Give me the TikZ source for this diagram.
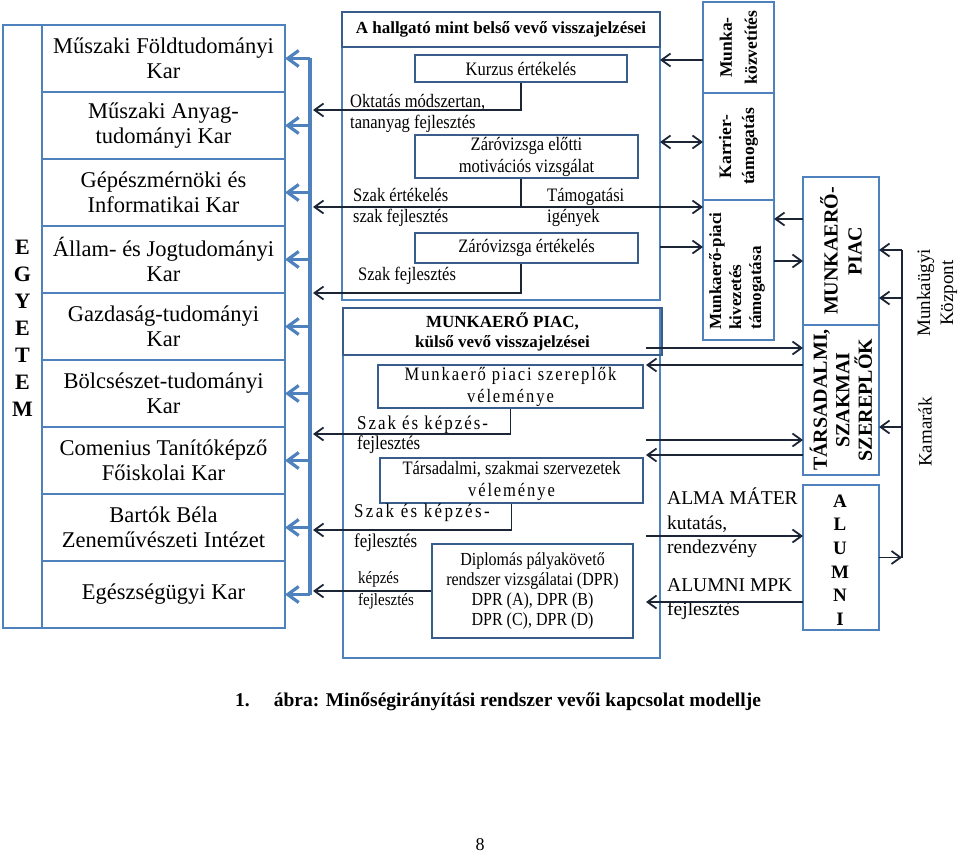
\documentclass[tikz,border=0pt]{standalone}
\usepackage{fontspec}
\setmainfont{Liberation Serif}
\newfontfamily\narrowfont{Liberation Serif}[FakeStretch=0.87]
\usetikzlibrary{arrows.meta,positioning}
\definecolor{boxblue}{HTML}{4F81BD}
\definecolor{darkblue}{HTML}{385D8A}
\definecolor{arrowc}{HTML}{1C2536}
\tikzset{
  facbox/.style={draw=boxblue,line width=2.6pt,minimum width=243pt,minimum height=67pt,outer sep=0pt,inner sep=0pt,align=center,font=\fontsize{22.5}{25}\selectfont},
  outerbox/.style={draw=boxblue,line width=2.6pt,inner sep=0pt,outer sep=0pt},
  headbox/.style={draw=darkblue,line width=2.6pt,inner sep=0pt,outer sep=0pt,align=center,font=\bfseries\fontsize{17}{20}\selectfont},
  innerbox/.style={draw=darkblue,line width=2.6pt,inner sep=0pt,align=center,font=\narrowfont\fontsize{19}{22}\selectfont},
  sidebox/.style={draw=boxblue,line width=2.6pt,inner sep=0pt,outer sep=0pt},
  vlabel/.style={rotate=90,align=center,inner sep=0pt,font=\bfseries\fontsize{17.5}{23}\selectfont},
  note/.style={align=left,anchor=west,inner sep=0pt,font=\narrowfont\fontsize{19}{21}\selectfont},
  sidenote/.style={align=left,anchor=west,inner sep=0pt,font=\fontsize{19.5}{24.5}\selectfont},
  arr/.style={-{Straight Barb[length=9pt,width=13pt]},line width=1.8pt,arrowc},
  arrboth/.style={arr,{Straight Barb[length=9pt,width=13pt]}-{Straight Barb[length=9pt,width=13pt]}},
  barr/.style={-{Straight Barb[length=11pt,width=16pt]},line width=3.2pt,boxblue}
}
\begin{document}
\begin{tikzpicture}[x=1pt,y=-1pt]
  \useasboundingbox (0,0) rectangle (960,856);

  % Egyetem and faculties
  \node[sidebox,minimum width=39pt,minimum height=603pt] (egyetem) at (22.5,326.5) {};
  \node[font=\bfseries\fontsize{22}{27}\selectfont,align=center,inner sep=0pt] (egyletters) at (22.5,328) {E\\G\\Y\\E\\T\\E\\M};
  \node[facbox] (fac1) at (163.5,58.5) {Műszaki Földtudományi\\Kar};
  \node[facbox,below=0pt of fac1] (fac2) {Műszaki Anyag-\\tudományi Kar};
  \node[facbox,below=0pt of fac2] (fac3) {Gépészmérnöki és\\Informatikai Kar};
  \node[facbox,below=0pt of fac3] (fac4) {Állam- és Jogtudományi\\Kar};
  \node[facbox,below=0pt of fac4] (fac5) {Gazdaság-tudományi\\Kar};
  \node[facbox,below=0pt of fac5] (fac6) {Bölcsészet-tudományi\\Kar};
  \node[facbox,below=0pt of fac6] (fac7) {Comenius Tanítóképző\\Főiskolai Kar};
  \node[facbox,below=0pt of fac7] (fac8) {Bartók Béla\\Zeneművészeti Intézet};
  \node[facbox,below=0pt of fac8] (fac9) {Egészségügyi Kar};

  % y levels and buses
  \coordinate (bus) at (310,0);
  \coordinate (busin) at (313,0);
  \coordinate (bus2) at (902,0);
  \coordinate (mx) at (646,0);
  \coordinate (yk) at (0,110);
  \coordinate (ym) at (0,207);
  \coordinate (yz) at (0,293);
  \coordinate (ys) at (0,434);
  \coordinate (yt) at (0,530);
  \coordinate (yr1) at (0,60);
  \coordinate (yr2) at (0,142);
  \coordinate (yr3) at (0,247);
  \coordinate (yr4) at (0,219);
  \coordinate (yr5) at (0,261);
  \coordinate (yr6) at (0,348);
  \coordinate (yr7) at (0,365);
  \coordinate (yr8) at (0,440);
  \coordinate (yr9) at (0,455);
  \coordinate (yr10) at (0,536);
  \coordinate (yr11) at (0,602);
  \coordinate (yb1) at (0,250);
  \coordinate (yb2) at (0,298);
  \coordinate (yb3) at (0,427);

  \draw[line width=3.2pt,boxblue] (bus |- fac1.east) -- (bus |- fac9.east);
  \draw[barr] (bus |- fac1.east) -- (fac1.east);
  \draw[barr] (bus |- fac2.east) -- (fac2.east);
  \draw[barr] (bus |- fac3.east) -- (fac3.east);
  \draw[barr] (bus |- fac4.east) -- (fac4.east);
  \draw[barr] (bus |- fac5.east) -- (fac5.east);
  \draw[barr] (bus |- fac6.east) -- (fac6.east);
  \draw[barr] (bus |- fac7.east) -- (fac7.east);
  \draw[barr] (bus |- fac8.east) -- (fac8.east);
  \draw[barr] (bus |- fac9.east) -- (fac9.east);

  % Hallgató box
  \node[outerbox,minimum width=318pt,minimum height=288pt] (hallgbox) at (501,156) {};
  \node[headbox,minimum width=318pt,minimum height=35pt,anchor=north] (hallghead) at (hallgbox.north) {A hallgató mint belső vevő visszajelzései};
  \node[innerbox,minimum width=212pt,minimum height=27pt] (kurzus) at (521,68.5) {Kurzus értékelés};
  \node[innerbox,minimum width=223pt,minimum height=43pt] (motiv) at (526.5,156.5) {Záróvizsga előtti\\motivációs vizsgálat};
  \node[innerbox,minimum width=223pt,minimum height=30pt] (zarov) at (526.5,248) {Záróvizsga értékelés};
  \node[note] (okt) at (350,113.5) {Oktatás módszertan,\\tananyag fejlesztés};
  \node[note] (szakert) at (353,207.5) {Szak értékelés\\szak fejlesztés};
  \node[note] (tamog) at (547,207.5) {Támogatási\\igények};
  \node[note] (szakfejl) at (358,276) {Szak fejlesztés};

  \draw[arr] (kurzus.south) |- (busin |- yk);
  \draw[line width=1.8pt,arrowc] (kurzus.south |- motiv.south) -- (kurzus.south |- ym);
  \draw[arr] (kurzus.south |- zarov.south) |- (busin |- yz);

  % Munkaerő piac box
  \node[outerbox,minimum width=317pt,minimum height=350pt] (munkabox) at (501.5,483) {};
  \node[headbox,minimum width=319pt,minimum height=47pt,anchor=north west,font=\bfseries\fontsize{17}{20}\selectfont] (munkahead) at (munkabox.north west) {MUNKAERŐ PIAC,\\külső vevő visszajelzései};
  \node[innerbox,minimum width=265pt,minimum height=43pt] (szereplo) at (510.5,386.5) {\addfontfeature{LetterSpace=10}Munkaerő piaci szereplők\\\addfontfeature{LetterSpace=10}véleménye};
  \node[innerbox,minimum width=263pt,minimum height=45pt] (tarsvel) at (511.5,480.5) {Társadalmi, szakmai szervezetek\\\addfontfeature{LetterSpace=10}véleménye};
  \node[innerbox,minimum width=201pt,minimum height=94pt,font=\narrowfont\fontsize{18.4}{20}\selectfont] (dpr) at (532.5,591) {Diplomás pályakövető\\rendszer vizsgálatai (DPR)\\DPR (A), DPR (B)\\DPR (C), DPR (D)};
  \node[note,font=\narrowfont\fontsize{19.5}{20}\selectfont] (szk1) at (357,435) {{\addfontfeature{LetterSpace=10}Szak és képzés-}\\fejlesztés};
  \node[note,font=\narrowfont\fontsize{19.5}{30}\selectfont] (szk2) at (354,528) {{\addfontfeature{LetterSpace=12}Szak és képzés-}\\fejlesztés};
  \node[note,font=\narrowfont\fontsize{17.2}{22}\selectfont] (kepz) at (358,590.5) {képzés\\fejlesztés};

  \draw[arr] (szereplo.south) |- (busin |- ys);
  \draw[arr] (tarsvel.south) |- (busin |- yt);
  \draw[arr] (dpr.west) -- (busin |- dpr.west);

  % Right column
  \node[sidebox,minimum width=71pt,minimum height=91pt] (munkakoz) at (738.5,47.5) {};
  \node[sidebox,minimum width=71pt,minimum height=107pt,below=0pt of munkakoz] (karrier) {};
  \node[sidebox,minimum width=71pt,minimum height=140pt,below=0pt of karrier] (kivez) {};
  \node[vlabel,font=\bfseries\fontsize{17.5}{25}\selectfont] (munkakoztext) at (munkakoz) {Munka-\\közvetítés};
  \node[vlabel] (karriertext) at (karrier) {Karrier-\\támogatás};
  \node[vlabel,align=left,font=\bfseries\fontsize{17}{20}\selectfont] (kiveztext) at (737,271) {Munkaerő-piaci\\kivezetés\\támogatása};

  \node[sidebox,minimum width=76pt,minimum height=148pt] (mpiac) at (841,251) {};
  \node[sidebox,minimum width=76pt,minimum height=150pt,below=0pt of mpiac] (tarsz) {};
  \node[sidebox,minimum width=76pt,minimum height=145pt] (alumni) at (841,557.5) {};
  \node[vlabel,font=\bfseries\fontsize{20}{24}\selectfont] (mpiactext) at (mpiac) {MUNKAERŐ-\\PIAC};
  \node[vlabel,font=\bfseries\fontsize{20}{22.5}\selectfont] (tarsztext) at (tarsz) {TÁRSADALMI,\\SZAKMAI\\SZEREPLŐK};
  \node[font=\bfseries\fontsize{19}{23.6}\selectfont,align=center,inner sep=0pt] (alumnitext) at (840,560) {A\\L\\U\\M\\N\\I};

  \node[sidenote] (alma) at (667,523) {ALMA MÁTER\\kutatás,\\rendezvény};
  \node[sidenote,font=\fontsize{19.5}{24}\selectfont] (mpk) at (667,599) {ALUMNI MPK\\fejlesztés};
  \node[rotate=90,align=center,inner sep=0pt,font=\fontsize{19}{23}\selectfont] (munkaugyi) at (937,293) {Munkaügyi\\Központ};
  \node[rotate=90,inner sep=0pt,font=\fontsize{19}{23}\selectfont] (kamarak) at (925,432) {Kamarák};

  % Connectors on the right
  \draw[arr] (munkakoz.west |- yr1) -- (hallgbox.east |- yr1);
  \draw[arrboth] (hallgbox.east |- yr2) -- (karrier.west |- yr2);
  \draw[arrboth] (busin |- ym) -- (kivez.west |- ym);
  \draw[arr] (hallgbox.east |- yr3) -- (kivez.west |- yr3);
  \draw[arr] (mpiac.west |- yr4) -- (kivez.east |- yr4);
  \draw[arr] (kivez.east |- yr5) -- (mpiac.west |- yr5);
  \draw[arr] (mx |- yr6) -- (tarsz.west |- yr6);
  \draw[arr] (tarsz.west |- yr7) -- (mx |- yr7);
  \draw[arr] (mx |- yr8) -- (tarsz.west |- yr8);
  \draw[arr] (tarsz.west |- yr9) -- (mx |- yr9);
  \draw[arr] (mx |- yr10) -- (alumni.west |- yr10);
  \draw[arr] (alumni.west |- yr11) -- (mx |- yr11);

  \draw[line width=1.8pt,arrowc] (bus2 |- yb1) -- (bus2 |- alumni.east);
  \draw[arr] (bus2 |- yb1) -- (mpiac.east |- yb1);
  \draw[arr] (bus2 |- yb2) -- (mpiac.east |- yb2);
  \draw[arr] (bus2 |- yb3) -- (tarsz.east |- yb3);
  \draw[arr] (alumni.east) -- (bus2 |- alumni.east);

  % Caption
  \node[anchor=west,inner sep=0pt,font=\bfseries\fontsize{19.5}{22}\selectfont] (caption) at (235,702) {1.\hspace{24pt}ábra: Minőségirányítási rendszer vevői kapcsolat modellje};
  \node[font=\fontsize{18}{20}\selectfont,inner sep=0pt] (pagenum) at (480,845) {8};
\end{tikzpicture}
\end{document}
